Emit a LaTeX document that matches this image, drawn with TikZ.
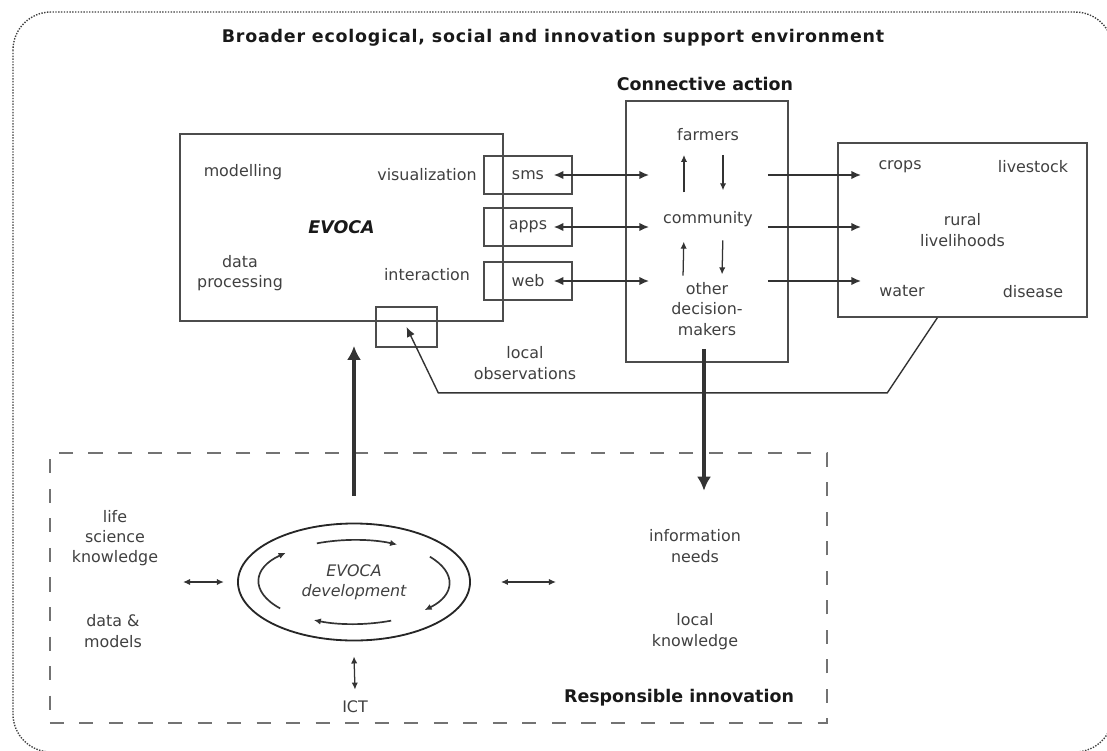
\documentclass[tikz,border=0pt]{standalone}
\usepackage{fontspec}
\setmainfont{DejaVu Sans}
\usetikzlibrary{arrows.meta, shapes.geometric}

\begin{document}
\begin{tikzpicture}[x=0.025cm, y=0.025cm,
font=\fontsize{11.3}{14.4}\selectfont,
every node/.style={text=black!75, align=center},
box/.style={draw=black!70, line width=1.2pt, inner sep=0pt},
title/.style={font=\fontsize{12.4}{14.4}\selectfont\bfseries, text=black!90},
arr/.style={draw=black!80, line width=1.2pt, -{Latex[length=7pt,width=6pt]}},
dbl/.style={draw=black!80, line width=1.2pt, {Latex[length=7pt,width=6pt]}-{Latex[length=7pt,width=6pt]}},
thin/.style={draw=black!80, line width=0.9pt, -{Latex[length=5pt,width=4.5pt]}},
thindbl/.style={draw=black!80, line width=0.9pt, {Latex[length=5pt,width=4.5pt]}-{Latex[length=5pt,width=4.5pt]}},
heavy/.style={draw=black!80, line width=2.6pt, -{Latex[length=10pt,width=10pt]}}]
\useasboundingbox (0,0) rectangle (1107,-751);
\draw[black!75, line width=1pt, densely dotted, rounded corners=0.95cm] (13,-12) rectangle (1113,-752);
\node[title, font=\fontsize{12.4}{14.4}\selectfont\bfseries\addfontfeature{LetterSpace=4.5}] (envtitle) at (553,-38) {Broader ecological, social and innovation support environment};
\node[title] (conntitle) at (705,-84) {Connective action};

\node[box, minimum width=8.075cm, minimum height=4.675cm, font=\fontsize{12.4}{14.4}\selectfont\bfseries\itshape, text=black!90] (evoca) at (341.5,-227.5) {EVOCA};
\node (modelling) at (243,-172) {modelling};
\node (visual) at (427,-175) {visualization};
\node (dataproc) at (240,-273) {data\\processing};
\node (interact) at (427,-275) {interaction};
\node[box, minimum width=2.2cm, minimum height=0.95cm] (sms) at (528,-175) {sms};
\node[box, minimum width=2.2cm, minimum height=0.95cm] (apps) at (528,-227) {apps};
\node[box, minimum width=2.2cm, minimum height=0.95cm] (web) at (528,-281) {web};
\node[box, minimum width=1.525cm, minimum height=1cm] (obs) at (406.5,-327) {};
\node (obstext) at (525,-363) {local\\observations};

\node[box, minimum width=4.05cm, minimum height=6.525cm] (conn) at (707,-231.5) {};
\node (farmers) at (708,-135) {farmers};
\node (comm) at (708,-219) {community};
\node (others) at (707,-309) {other\\decision-\\makers};

\node[box, minimum width=6.225cm, minimum height=4.35cm] (rural) at (962.5,-230) {rural\\livelihoods};
\node (crops) at (900,-167) {crops};
\node (livestock) at (1033,-167) {livestock};
\node (water) at (902,-291) {water};
\node (disease) at (1033,-292) {disease};

\draw[dbl] ([xshift=-0.48cm]sms.east) -- ([xshift=0.6cm]conn.west |- sms.east);
\draw[dbl] ([xshift=-0.48cm]apps.east) -- ([xshift=0.6cm]conn.west |- apps.east);
\draw[dbl] ([xshift=-0.48cm]web.east) -- ([xshift=0.6cm]conn.west |- web.east);
\draw[arr] ([xshift=-0.525cm]conn.east |- sms.east) -- ([xshift=0.6cm]rural.west |- sms.east);
\draw[arr] ([xshift=-0.525cm]conn.east |- apps.east) -- ([xshift=0.6cm]rural.west |- apps.east);
\draw[arr] ([xshift=-0.525cm]conn.east |- web.east) -- ([xshift=0.6cm]rural.west |- web.east);

\draw[thin, shorten <=0.35cm, shorten >=0.22cm] ([xshift=-0.6cm]comm.north) -- ([xshift=-0.6cm]farmers.south);
\draw[thin, shorten <=0.22cm, shorten >=0.4cm] ([xshift=0.375cm]farmers.south) -- ([xshift=0.375cm]comm.north);
\draw[thin, shorten <=0.05cm, shorten >=0.25cm] ([xshift=-0.6cm]others.north) -- ([xshift=-0.6cm]comm.south);
\draw[thin, shorten <=0.22cm, shorten >=0.08cm] ([xshift=0.375cm]comm.south) -- ([xshift=0.375cm]others.north);

\draw[arr, line width=1pt] ([xshift=-0.63cm]rural.south) -- ++(-50,-75) -- ++(-449,0) -- (obs.center);

\node[draw=black!55, line width=1.3pt, dash pattern=on 10pt off 11pt, minimum width=19.425cm, minimum height=6.75cm] (resp) at (438.5,-588) {};
\node[title] (resptitle) at (679,-698) {Responsible innovation};
\node[ellipse, draw=black!85, line width=1.3pt, minimum width=5.8cm, minimum height=2.925cm, font=\fontsize{11.3}{14.4}\selectfont\itshape] (devel) at (354,-582) {EVOCA\\development};
\node (life) at (115,-538) {life\\science\\knowledge};
\node (datamod) at (113,-631) {data \&\\models};
\node (info) at (695,-546) {information\\needs};
\node (localk) at (695,-631.5) {local\\knowledge};
\node (ict) at (355,-707) {ICT};

\draw[heavy] ([xshift=-0.075cm, yshift=0.35cm]conn.south) -- ([xshift=-0.075cm, yshift=0.85cm]conn.south |- info.north);
\draw[heavy] ([yshift=0.675cm]devel.north) -- ([yshift=-0.6cm]devel.north |- evoca.south);

\draw[thin, line width=1.2pt] (devel.center) ++(113:95 and 42) arc[start angle=113, end angle=63, x radius=95, y radius=42];
\draw[thin, line width=1.2pt] (devel.center) ++(37:95 and 42) arc[start angle=37, end angle=-42, x radius=95, y radius=42];
\draw[thin, line width=1.2pt] (devel.center) ++(-67:95 and 42) arc[start angle=-67, end angle=-115, x radius=95, y radius=42];
\draw[thin, line width=1.2pt] (devel.center) ++(219:95 and 42) arc[start angle=219, end angle=136, x radius=95, y radius=42];

\draw[thindbl] ([xshift=-1.35cm]devel.west) -- ([xshift=-0.33cm]devel.west);
\draw[thindbl] ([xshift=0.75cm]devel.east) -- ([xshift=2.125cm]devel.east);
\draw[thindbl] ([yshift=-0.375cm]devel.south) -- ([yshift=0.16cm]ict.north);
\end{tikzpicture}
\end{document}
